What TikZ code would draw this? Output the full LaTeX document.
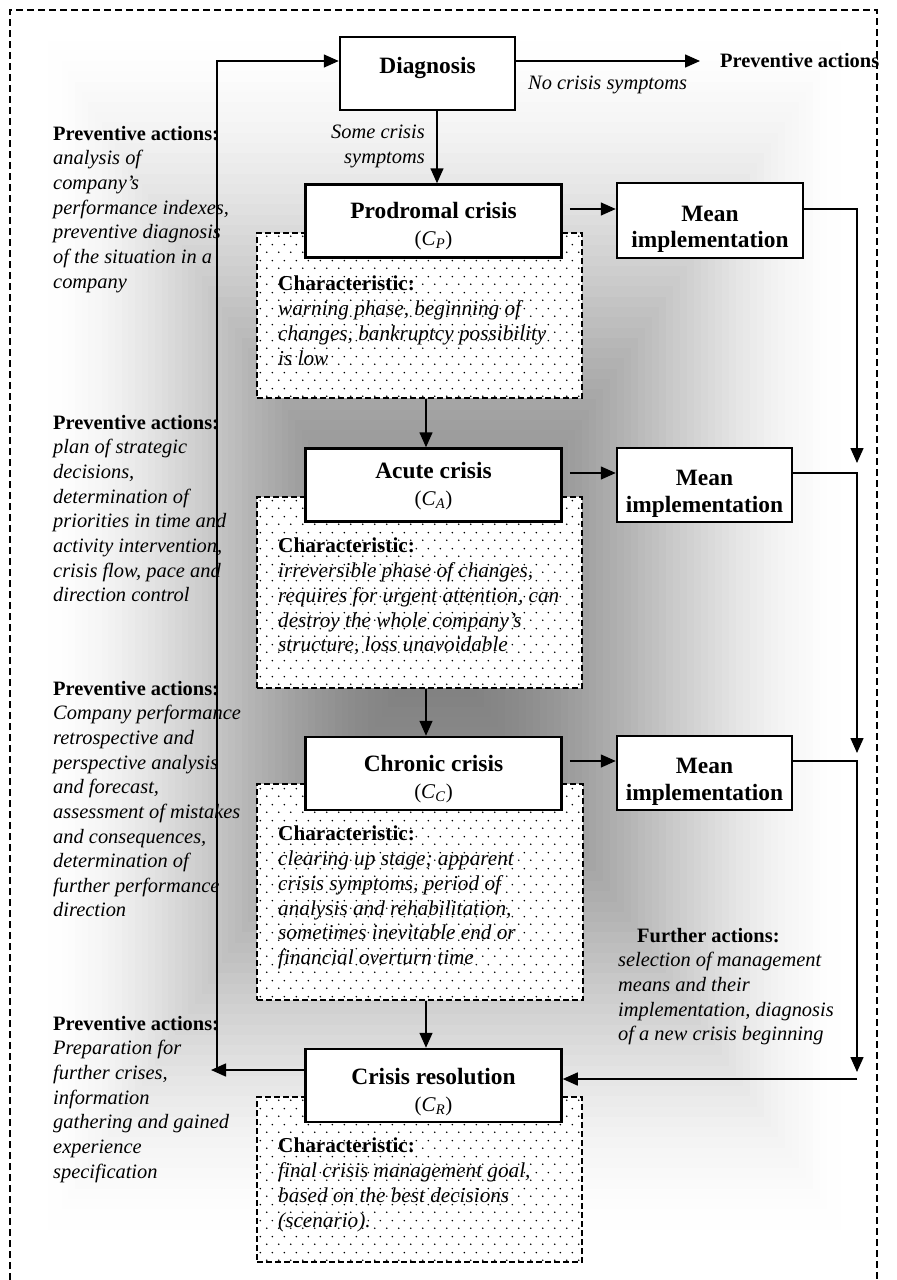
\documentclass[tikz,border=0pt]{standalone}
\usepackage{fontspec}
\setmainfont{Liberation Serif}
\usetikzlibrary{arrows.meta,patterns}

\newlength{\du}
\setlength{\du}{1bp}

\newcommand{\boxfont}{\fontsize{23.5}{27}\selectfont\bfseries}
\newcommand{\sidefont}{\fontsize{20.5}{24.7}\selectfont\itshape}
\newcommand{\charfont}{\fontsize{21.3}{24.8}\selectfont\itshape}
\newcommand{\phasefont}{\fontsize{21}{24}\selectfont\mdseries}
\newcommand{\phase}[1]{{\phasefont(\textit{C}\textsubscript{\textit{#1}})}}
\newcommand{\sidehead}[1]{\textup{\textbf{#1}}}
\newcommand{\boxstrut}[1]{\rule{0pt}{#1}}

\pgfdeclarepatternformonly{sparse dots}{\pgfqpoint{0bp}{0bp}}{\pgfqpoint{12bp}{16bp}}{\pgfqpoint{12bp}{16bp}}{%
  \pgfpathcircle{\pgfqpoint{3bp}{4bp}}{0.9bp}%
  \pgfpathcircle{\pgfqpoint{9bp}{12bp}}{0.9bp}%
  \pgfusepath{fill}}

\tikzset{
  stagebox/.style={draw, line width=2.5\du, fill=white, align=center, inner sep=0pt,
    font=\boxfont, minimum width=256\du, minimum height=73\du},
  meanbox/.style={stagebox, minimum width=175\du, minimum height=74\du},
  charbox/.style={draw, line width=1.5\du, dash pattern=on 6bp off 3bp,
    preaction={fill=white}, pattern=sparse dots, inner sep=0pt},
  sidetext/.style={anchor=north west, inner sep=0pt, align=left, font=\sidefont},
  chartext/.style={sidetext, font=\charfont},
  flow/.style={line width=1.5\du, -{Triangle[length=15bp,width=13bp]}},
  outerframe/.style={line width=1.3\du, dash pattern=on 7bp off 4bp},
}

\begin{document}
\begin{tikzpicture}
\pgftransformxscale{1.000000}
\pgftransformyscale{-1.000000}
\useasboundingbox (0\du,0\du) rectangle (897\du,1280\du);

% shaded ground, darkest in the middle
\foreach \i in {1,...,60}{
  \pgfmathsetmacro{\bgk}{1-\i/60}
  \pgfmathsetmacro{\bglvl}{50*(sin(1.5*\i))^1.8}
  \fill[black!\bglvl] (435\du-400\du*\bgk,635\du-615\du*\bgk) rectangle (435\du+420\du*\bgk,635\du+615\du*\bgk);
}

\draw[outerframe] (10\du,1280\du) -- (10\du,10\du) -- (877\du,10\du) -- (877\du,1280\du);

% characteristic boxes
\node[charbox, minimum width=325\du, minimum height=165\du] (char1) at (419.5\du,315.5\du) {};
\node[charbox, minimum width=325\du, minimum height=191\du] (char2) at (419.5\du,592.5\du) {};
\node[charbox, minimum width=326\du, minimum height=216\du] (char3) at (420\du,892\du) {};
\node[charbox, minimum width=325\du, minimum height=165\du] (char4) at (419.5\du,1179.5\du) {};

% stages
\node[stagebox, minimum width=175\du, text depth=16\du] (diag) at (427.5\du,73.5\du) {Diagnosis};
\node[stagebox] (prod) at (433.5\du,221\du) {\boxstrut{26bp}Prodromal crisis\\\phase{P}};
\node[stagebox] (acute) at (433.5\du,485\du) {\boxstrut{18bp}Acute crisis\\\phase{A}};
\node[stagebox] (chron) at (433.5\du,773.5\du) {\boxstrut{28bp}Chronic crisis\\\phase{C}};
\node[stagebox] (resol) at (433.5\du,1085.5\du) {\boxstrut{30bp}Crisis resolution\\\phase{R}};

\node[meanbox, minimum width=186\du, minimum height=75\du] (mean1) at (710\du,220.5\du) {\boxstrut{33bp}Mean\\implementation};
\node[meanbox] (mean2) at (704.5\du,485\du) {\boxstrut{33bp}Mean\\implementation};
\node[meanbox] (mean3) at (704.5\du,773\du) {\boxstrut{33bp}Mean\\implementation};

% connector levels
\coordinate (lvlD) at (0\du,61\du);
\coordinate (lvlP) at (0\du,209\du);
\coordinate (lvlA) at (0\du,473\du);
\coordinate (lvlC) at (0\du,761\du);
\coordinate (lvlRl) at (0\du,1070\du);
\coordinate (lvlRr) at (0\du,1079\du);
\coordinate (dcol) at (437\du,0\du);
\coordinate (scol) at (426\du,0\du);
\coordinate (fb) at (217\du,1070\du);
\coordinate (fbtip) at (211\du,1070\du);
\coordinate (rail1) at (857\du,463\du);
\coordinate (rail2) at (857\du,753\du);
\coordinate (rail3) at (857\du,1072\du);

\node[anchor=west, inner sep=0pt, font=\sidefont] (prevtop) at (720\du,61\du) {\sidehead{Preventive actions}};
\node[anchor=west, inner sep=0pt, font=\sidefont] (nosym) at (528\du,85\du) {No crisis symptoms};
\node[sidetext, anchor=north east, align=right] (somesym) at (425\du,125\du) {Some crisis\\symptoms};

\draw[flow] (diag.east |- lvlD) -- ([xshift=-20bp]prevtop.west);
\draw[flow] (diag.south -| dcol) -- (prod.north -| dcol);
\draw[flow] (char1.south -| scol) -- (acute.north -| scol);
\draw[flow] (char2.south -| scol) -- (chron.north -| scol);
\draw[flow] (char3.south -| scol) -- (resol.north -| scol);

\draw[flow] ([xshift=7bp]prod.east |- lvlP) -- (mean1.west |- lvlP);
\draw[flow] ([xshift=7bp]acute.east |- lvlA) -- (mean2.west |- lvlA);
\draw[flow] ([xshift=7bp]chron.east |- lvlC) -- (mean3.west |- lvlC);

\draw[flow] (mean1.east |- lvlP) -| (rail1);
\draw[flow] (mean2.east |- lvlA) -| (rail2);
\draw[flow] (mean3.east |- lvlC) -| (rail3);
\draw[flow] (rail3 |- lvlRr) -- (resol.east |- lvlRr);

\draw[flow] (resol.west |- lvlRl) -- (fbtip);
\draw[flow] (fb) |- (diag.west |- lvlD);

% texts
\node[chartext] (chartxt1) at (278\du,276\du) {\sidehead{Characteristic:}\\warning phase, beginning of\\changes, bankruptcy possibility\\is low};
\node[chartext] (chartxt2) at (278\du,538\du) {\sidehead{Characteristic:}\\irreversible phase of changes,\\requires for urgent attention, can\\destroy the whole company's\\structure, loss unavoidable};
\node[chartext] (chartxt3) at (278\du,826\du) {\sidehead{Characteristic:}\\clearing up stage; apparent\\crisis symptoms, period of\\analysis and rehabilitation,\\sometimes inevitable end or\\financial overturn time};
\node[chartext] (chartxt4) at (278\du,1138\du) {\sidehead{Characteristic:}\\final crisis management goal,\\based on the best decisions\\(scenario).};

\node[sidetext] (prev1) at (53\du,126\du) {\sidehead{Preventive actions:}\\analysis of\\company's\\performance indexes,\\preventive diagnosis\\of the situation in a\\company};
\node[sidetext] (prev2) at (53\du,415\du) {\sidehead{Preventive actions:}\\plan of strategic\\decisions,\\determination of\\priorities in time and\\activity intervention,\\crisis flow, pace and\\direction control};
\node[sidetext] (prev3) at (53\du,681\du) {\sidehead{Preventive actions:}\\Company performance\\retrospective and\\perspective analysis\\and forecast,\\assessment of mistakes\\and consequences,\\determination of\\further performance\\direction};
\node[sidetext] (prev4) at (53\du,1016\du) {\sidehead{Preventive actions:}\\Preparation for\\further crises,\\information\\gathering and gained\\experience\\specification};

\node[sidetext] (further) at (618\du,928\du) {\hspace*{19\du}\sidehead{Further actions:}\\selection of management\\means and their\\implementation, diagnosis\\of a new crisis beginning};
\end{tikzpicture}
\end{document}
